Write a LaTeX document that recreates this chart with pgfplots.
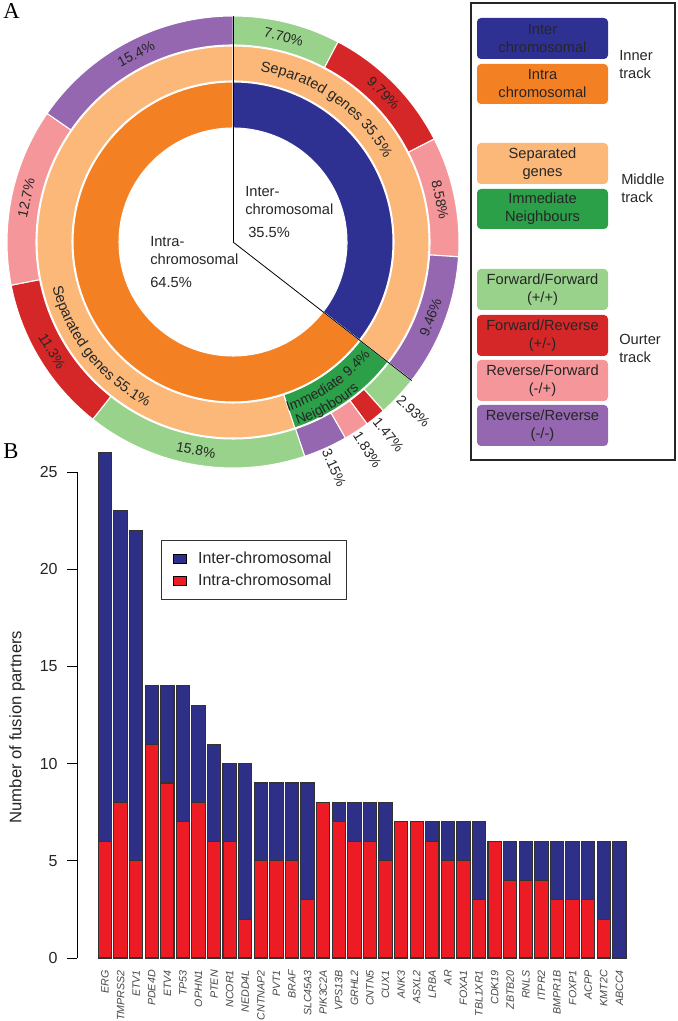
\documentclass[border=0pt]{standalone}
\usepackage{pgfplots}
\pgfplotsset{compat=1.18}
\usepackage{pgfplotstable}
\usepackage{fontspec}
\setmainfont{Liberation Sans}
\newfontfamily\serif{Liberation Serif}
\usetikzlibrary{decorations.text}

\definecolor{navy}{HTML}{2E3192}
\definecolor{orng}{HTML}{F48024}
\definecolor{lorng}{HTML}{FBB878}
\definecolor{dgreen}{HTML}{2BA048}
\definecolor{lgreen}{HTML}{98D28B}
\definecolor{dred}{HTML}{D62728}
\definecolor{pink}{HTML}{F5969A}
\definecolor{purp}{HTML}{9467B0}
\definecolor{barnavy}{HTML}{2E3087}
\definecolor{barred}{HTML}{ED1C24}

\pgfplotstableread{
x gene intra inter
0 ERG 6 20
1 TMPRSS2 8 15
2 ETV1 5 17
3 PDE4D 11 3
4 ETV4 9 5
5 TP53 7 7
6 OPHN1 8 5
7 PTEN 6 5
8 NCOR1 6 4
9 NEDD4L 2 8
10 CNTNAP2 5 4
11 PVT1 5 4
12 BRAF 5 4
13 SLC45A3 3 6
14 PIK3C2A 8 0
15 VPS13B 7 1
16 GRHL2 6 2
17 CNTN5 6 2
18 CUX1 5 3
19 ANK3 7 0
20 ASXL2 7 0
21 LRBA 6 1
22 AR 5 2
23 FOXA1 5 2
24 TBL1XR1 3 4
25 CDK19 6 0
26 ZBTB20 4 2
27 RNLS 4 2
28 ITPR2 4 2
29 BMPR1B 3 3
30 FOXP1 3 3
31 ACPP 3 3
32 KMT2C 2 4
33 ABCC4 0 6
}\data

% ring of a donut: inner radius, outer radius, list value/colour (percent)
\newcommand{\ring}[3]{%
  \gdef\cum{0}%
  \foreach \v/\c in {#3}{%
    \pgfmathsetmacro\angA{90-\scf*\cum}%
    \pgfmathsetmacro\angB{90-\scf*(\cum+\v)}%
    \fill[\c, draw=white, line width=0.8pt] (\angA:#2) arc[start angle=\angA, end angle=\angB, radius=#2]
      -- (\angB:#1) arc[start angle=\angB, end angle=\angA, radius=#1] -- cycle;
    \pgfmathsetmacro\nc{\cum+\v}%
    \global\let\cum\nc
  }}

\begin{document}
\begin{tikzpicture}[x=0.75pt, y=0.75pt]
\path[use as bounding box] (0,0) rectangle (678,1021);

\node[anchor=north west, inner sep=0pt, font=\serif\fontsize{17}{17}\selectfont] at (3,1018) {A};
\node[anchor=north west, inner sep=0pt, font=\serif\fontsize{17}{17}\selectfont] at (3,578) {B};

% ---------------- donut (panel A) ----------------
\begin{scope}[shift={(233,779)}]
  \def\scf{3.6}
  \ring{114}{160}{35.5/navy,64.5/orng}
  \ring{161}{196}{35.5/lorng,9.4/dgreen,55.1/lorng}
  \def\scf{3.5965}
  \ring{197}{226}{7.70/lgreen,9.79/dred,8.58/pink,9.46/purp,2.93/lgreen,1.47/dred,1.83/pink,3.15/purp,15.8/lgreen,11.3/dred,12.7/pink,15.4/purp}
  \draw[black, line width=0.6pt] (0,0) -- (90:226);
  \draw[black, line width=0.6pt] (0,0) -- (-37.8:226);

  \foreach \lab/\p/\r in {7.70/76.14/-13.86, 9.79/44.66/-45.34, 8.58/11.59/-78.41, 9.46/-20.88/69.12, 15.8/-100.1/-10.1, 11.3/-148.9/-58.9, 12.7/167.9/77.9, 15.4/117.3/27.3}
    \node[rotate=\r, font=\fontsize{10.5}{12}\selectfont, text=black!85] at (\p:211.5) {\lab\%};
  \foreach \lab/\p in {2.93/-43.2, 1.47/-51.1, 1.83/-57.1, 3.15/-65.9}
    \node[rotate=\p, anchor=west, inner sep=1pt, font=\fontsize{10.5}{12}\selectfont, text=black!85] at (\p:226) {\lab\%};

  \path[decorate, decoration={text along path, text align=left,
     text={|\fontsize{11}{13}\selectfont\color{black!85}|Separated genes 35.5{\%}}}]
     (81:173) arc[start angle=81, end angle=-36, radius=173];
  \path[decorate, decoration={text along path, text align=left,
     text={|\fontsize{11}{13}\selectfont\color{black!85}|Separated genes 55.1{\%}}}]
     (194:186) arc[start angle=194, end angle=265, radius=186];
  \path[decorate, decoration={text along path, text align=left,
     text={|\fontsize{10.5}{12}\selectfont\color{black!85}|Immediate 9.4{\%}}}]
     (-72:178) arc[start angle=-72, end angle=-20, radius=178];
  \path[decorate, decoration={text along path, text align=left,
     text={|\fontsize{10.5}{12}\selectfont\color{black!85}|Neighbours}}]
     (-70.5:194) arc[start angle=-70.5, end angle=-30, radius=194];

  \begin{scope}[font=\fontsize{11}{13}\selectfont, text=black!85]
    \node[anchor=base west, inner sep=0pt] at (12,45) {Inter-};
    \node[anchor=base west, inner sep=0pt] at (12,27) {chromosomal};
    \node[anchor=base west, inner sep=0pt] at (15,4) {35.5\%};
    \node[anchor=base west, inner sep=0pt] at (-83,-5) {Intra-};
    \node[anchor=base west, inner sep=0pt] at (-83,-23) {chromosomal};
    \node[anchor=base west, inner sep=0pt] at (-83,-46) {64.5\%};
  \end{scope}
\end{scope}

% ---------------- legend of panel A ----------------
\draw[black!85, line width=0.8pt] (471,1018) rectangle (675,561);
\begin{scope}[font=\fontsize{11}{13.5}\selectfont]
  \foreach \ya/\yb/\c/\txt in {18/59/navy/{Inter\\chromosomal}, 64/104/orng/{Intra\\chromosomal},
      143/184/lorng/{Separated\\genes}, 189/229/dgreen/{Immediate\\Neighbours},
      269/310/lgreen/{Forward/Forward\\(+/+)}, 315/356/dred/{Forward/Reverse\\(+/-)},
      360/401/pink/{Reverse/Forward\\(-/+)}, 405/446/purp/{Reverse/Reverse\\(-/-)}}{
    \fill[\c, rounded corners=3pt] (477,1021-\ya) rectangle (608,1021-\yb);
    \node[align=center, text=black!85, inner sep=0pt] at (542.5,{1021-(\ya+\yb)/2}) {\txt};
  }
  \node[anchor=west, align=left, text=black!85, inner sep=0pt] at (619,956) {Inner\\track};
  \node[anchor=west, align=left, text=black!85, inner sep=0pt] at (621,833) {Middle\\track};
  \node[anchor=west, align=left, text=black!85, inner sep=0pt] at (619,673) {Ourter\\track};
\end{scope}

% ---------------- bar chart (panel B) ----------------
\begin{axis}[
  at={(57.75pt,47.25pt)}, anchor=south west,
  scale only axis, width=416.1pt, height=379.1pt,
  xmin=-1.797, xmax=33.8, ymin=0, ymax=26,
  ybar stacked, bar width=10pt,
  axis lines*=left,
  x axis line style={draw=none}, y axis line style={draw=none},
  xtick=data, xticklabels from table={\data}{gene},
  xtick style={draw=none},
  ytick={0,5,10,15,20,25},
  yticklabels={0,5,10,15,20,25},
  ytick style={black, line width=0.6pt},
  tick align=outside, major tick length=7.5pt,
  yticklabel style={font=\fontsize{12}{14}\selectfont, text=black!85, xshift=-3.5pt},
  xticklabel style={rotate=90, anchor=east, font=\fontsize{8}{9.5}\selectfont\itshape, text=black!72, inner sep=1.5pt},
  ylabel={Number of fusion partners},
  ylabel style={at={(axis description cs:-0.108,0.457)}, anchor=center, font=\fontsize{12.5}{14}\selectfont, text=black!85},
  reverse legend,
  legend style={at={(axis description cs:0.1514,0.827)}, anchor=north west, draw=black!80,
     font=\fontsize{12}{14}\selectfont, text=black!85, row sep=2pt, inner xsep=9pt, inner ysep=7pt, cells={anchor=west}},
  mylegend/.style={legend image code/.code={\draw[##1, draw=black, line width=0.5pt] (0pt,-3.5pt) rectangle (9.5pt,3.5pt); \path (16pt,0pt);}},
]
\addplot[fill=barred, draw=black!80, line width=0.8pt, mylegend] table[x=x, y=intra] {\data};
\addplot[fill=barnavy, draw=black!80, line width=0.8pt, mylegend] table[x=x, y=inter] {\data};
\legend{Intra-chromosomal, Inter-chromosomal}
\draw[black, line width=0.6pt] (axis cs:-1.797,0) -- (axis cs:-1.797,25);
\end{axis}
\end{tikzpicture}
\end{document}
